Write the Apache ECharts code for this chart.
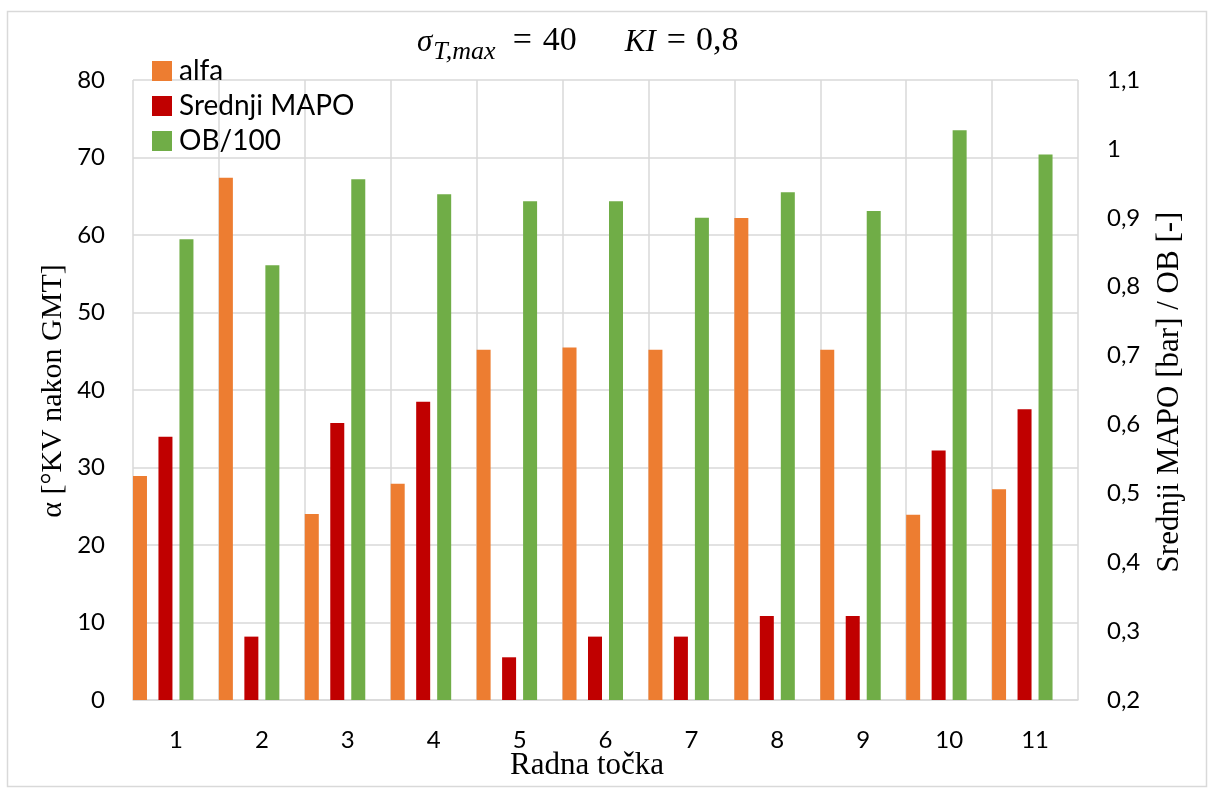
<!DOCTYPE html>
<html><head><meta charset="utf-8">
<script src="https://cdn.jsdelivr.net/npm/echarts@6/dist/echarts.min.js"></script>
<style>html,body{margin:0;padding:0;background:#fff}#c{width:1213px;height:795px}</style>
</head><body><div id="c"></div>
<script>
const categories = ['1','2','3','4','5','6','7','8','9','10','11'];
const alfa  = [28.9, 67.4, 24.0, 27.9, 45.2, 45.5, 45.2, 62.2, 45.2, 23.9, 27.2];
const mapo  = [0.582, 0.292, 0.602, 0.633, 0.262, 0.292, 0.292, 0.322, 0.322, 0.562, 0.622];
const ob100 = [0.869, 0.831, 0.956, 0.934, 0.924, 0.924, 0.900, 0.937, 0.910, 1.027, 0.992];
const seriesNames = ['alfa', 'Srednji MAPO', 'OB/100'];
const titleText = '{s|σ}{sub|T,max}{e1|=}{n|40}{k|KI}{e2|=}{n|0,8}';
const xName = 'Radna točka';
const leftName = 'α [°KV nakon GMT]';
const rightName = 'Srednji MAPO [bar] / OB [-]';

const C_OR = '#ED7D31', C_RED = '#C00000', C_GR = '#70AD47', GRID = '#D9D9D9';
const sans = 'Lato', serif = 'Liberation Serif';
const fmt = v => String(+(+v).toFixed(1)).replace('.', ',');
const tBase = {fontFamily: serif, fontWeight: 'normal', fontSize: 31, color: '#000', lineHeight: 36, verticalAlign: 'bottom'};

const chart = echarts.init(document.getElementById('c'), null, {renderer: 'canvas'});
chart.setOption({
  animation: false,
  backgroundColor: '#fff',
  grid: {left: 133, right: 135, top: 80, bottom: 95, containLabel: false},
  title: {
    text: titleText, left: 417, top: 22, padding: 0,
    textStyle: {
      fontWeight: 'normal',
      rich: {
        s: Object.assign({}, tBase, {fontStyle: 'italic'}),
        sub: Object.assign({}, tBase, {fontStyle: 'italic', fontSize: 26, padding: [0,0,-7,1]}),
        e1: Object.assign({}, tBase, {fontSize: 34, padding: [0,11,0,17]}),
        n: Object.assign({}, tBase, {fontSize: 34}),
        k: Object.assign({}, tBase, {fontStyle: 'italic', padding: [0,0,0,48]}),
        e2: Object.assign({}, tBase, {fontSize: 34, padding: [0,10,0,11]})
      }
    }
  },
  legend: {
    data: seriesNames, orient: 'vertical', left: 152, top: 57, padding: 0,
    itemWidth: 20, itemHeight: 20, itemGap: 7, icon: 'rect',
    textStyle: {fontFamily: sans, fontSize: 28, color: '#000', lineHeight: 28, padding: [0,0,0,2]}
  },
  xAxis: [
    {type: 'category', data: categories, gridIndex: 0,
     axisLine: {show: true, lineStyle: {color: GRID, width: 1.5}},
     axisTick: {show: false},
     axisLabel: {fontFamily: sans, fontSize: 24, color: '#000', margin: 28},
     splitLine: {show: true, lineStyle: {color: GRID, width: 1.5}}},
    {type: 'category', data: categories, gridIndex: 0, show: false, position: 'top'}
  ],
  yAxis: [
    {type: 'value', min: 0, max: 80, interval: 10, position: 'left',
     axisLine: {show: false}, axisTick: {show: false},
     axisLabel: {fontFamily: sans, fontSize: 24, color: '#000', margin: 28},
     splitLine: {show: true, lineStyle: {color: GRID, width: 1.5}}},
    {type: 'value', min: 0.2, max: 1.1, interval: 0.1, position: 'right',
     axisLine: {show: false}, axisTick: {show: false},
     axisLabel: {fontFamily: sans, fontSize: 24, color: '#000', margin: 29, formatter: fmt},
     splitLine: {show: false}}
  ],
  series: [
    {name: seriesNames[0], type: 'bar', xAxisIndex: 1, yAxisIndex: 0, data: alfa,
     barWidth: 14, barGap: '414%', itemStyle: {color: C_OR}, clip: true},
    {name: 'pad', type: 'bar', xAxisIndex: 1, yAxisIndex: 0, data: [],
     barWidth: 14, barGap: '414%'},
    {name: seriesNames[1], type: 'bar', xAxisIndex: 0, yAxisIndex: 1, data: mapo,
     barWidth: 14, barGap: '50%', itemStyle: {color: C_RED}, clip: true},
    {name: seriesNames[2], type: 'bar', xAxisIndex: 0, yAxisIndex: 1, data: ob100,
     barWidth: 14, barGap: '50%', itemStyle: {color: C_GR}, clip: true}
  ],
  graphic: [
    {type: 'rect', shape: {x: 7.5, y: 11.5, width: 1199, height: 775}, style: {fill: 'none', stroke: GRID, lineWidth: 1.5}, silent: true, z: -1},
    {type: 'text', x: 587, y: 766, style: {text: xName, font: '31px "Liberation Serif"', fill: '#000', align: 'center', verticalAlign: 'middle'}},
    {type: 'text', x: 53, y: 391, rotation: Math.PI / 2, style: {text: leftName, font: '30px "Liberation Serif"', fill: '#000', align: 'center', verticalAlign: 'middle'}},
    {type: 'text', x: 1170, y: 392, rotation: Math.PI / 2, style: {text: rightName, font: '31px "Liberation Serif"', fill: '#000', align: 'center', verticalAlign: 'middle'}}
  ]
});
</script></body></html>
